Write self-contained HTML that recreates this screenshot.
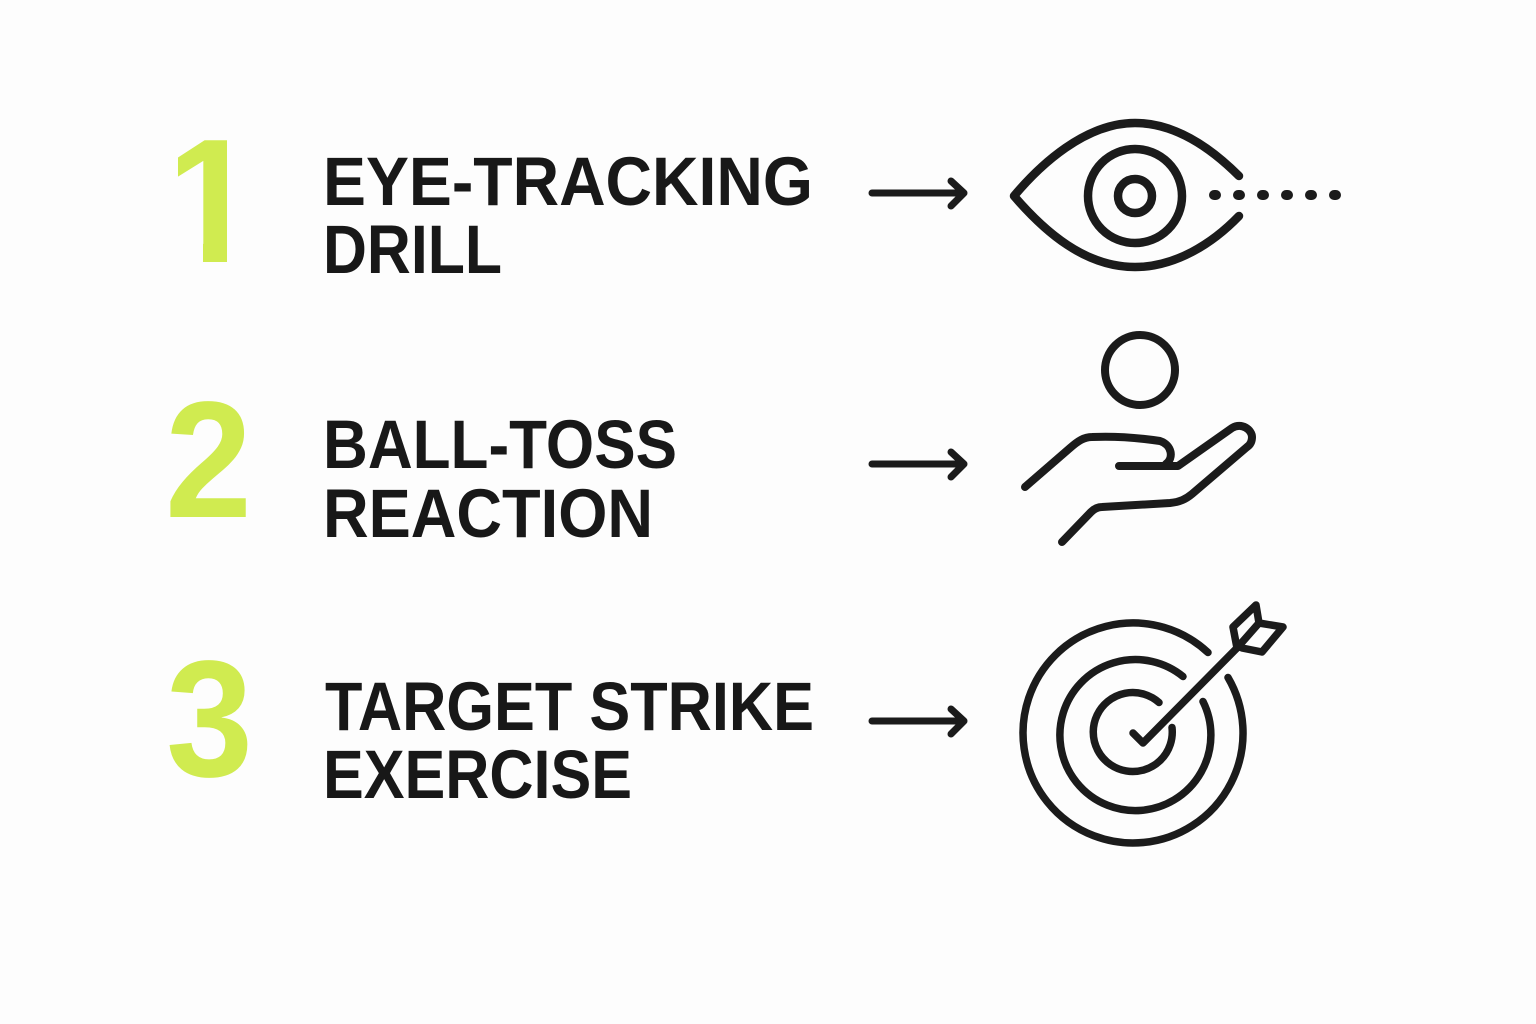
<!DOCTYPE html>
<html lang="en">
<head>
<meta charset="utf-8">
<title>Drills</title>
<style>
html,body{margin:0;padding:0;background:#fdfdfd}
svg{display:block}
.t{font-family:"Liberation Sans",sans-serif;font-weight:700;font-size:69px;fill:#181818}
.n{font-family:"Liberation Sans",sans-serif;font-weight:700;fill:#d0eb50}
.s{fill:none;stroke:#1b1b1b;stroke-linecap:round;stroke-linejoin:round}
</style>
</head>
<body>
<svg width="1536" height="1024" viewBox="0 0 1536 1024" xmlns="http://www.w3.org/2000/svg">
<defs>
<clipPath id="c1"><path d="M178 130H227V263H203V200H178Z"/></clipPath>
</defs>
<rect width="1536" height="1024" fill="#fdfdfd"/>

<text class="n" x="162" y="262" font-size="177" clip-path="url(#c1)">1</text>
<text class="n" x="165" y="517" font-size="166" textLength="87" lengthAdjust="spacingAndGlyphs">2</text>
<text class="n" x="166" y="776" font-size="166" textLength="87" lengthAdjust="spacingAndGlyphs">3</text>

<text class="t" x="323" y="205" textLength="490" lengthAdjust="spacingAndGlyphs">EYE-TRACKING</text>
<text class="t" x="323" y="273" textLength="179" lengthAdjust="spacingAndGlyphs">DRILL</text>
<text class="t" x="323" y="468" textLength="354" lengthAdjust="spacingAndGlyphs">BALL-TOSS</text>
<text class="t" x="323" y="537" textLength="330" lengthAdjust="spacingAndGlyphs">REACTION</text>
<text class="t" x="325" y="730" textLength="489" lengthAdjust="spacingAndGlyphs">TARGET STRIKE</text>
<text class="t" x="323" y="798" textLength="309" lengthAdjust="spacingAndGlyphs">EXERCISE</text>

<g class="s" stroke-width="7">
<path d="M872 193H963M951 181L964 193L951 206"/>
<path d="M872 464H963M951 452L964 464L951 477"/>
<path d="M872 721H963M951 709L964 721L951 734"/>
</g>

<g class="s" stroke-width="8.5">
<path d="M1239 176C1210 147 1175 123 1135 123C1085 123 1040 165 1014 196C1045 232 1085 267 1135 267C1175 267 1212 244 1239 216"/>
<circle cx="1135" cy="196" r="47"/>
<circle cx="1135" cy="196" r="17"/>
</g>
<g class="s" stroke-width="10">
<path d="M1214 195h2M1238 195h2M1262 195h2M1286 195h2M1310 195h2M1334 195h2"/>
</g>

<g class="s" stroke-width="8">
<circle cx="1140" cy="370" r="35"/>
<path d="M1025 487L1070 448C1078 441 1084 437 1092 437C1115 436 1140 438 1160 441C1172 445 1174 458 1166 464"/>
<path d="M1119 466H1178L1232 428C1242 422 1252 430 1252 437C1252 442 1250 445 1247 447L1192 494C1186 499 1180 502 1170 503L1102 507C1098 507 1094 509 1091 512L1062 542"/>
</g>

<g class="s" stroke-width="7.5">
<path d="M1208 652.5A110 110 0 1 0 1228 677.5"/>
<path d="M1183 676.5A75.5 75.5 0 1 0 1203 701.5"/>
<path d="M1159 702.5A39.5 39.5 0 1 0 1172 727.5"/>
<path d="M1133 733L1143 743L1237 648"/>
<path d="M1237 648L1233 627L1256 605L1259 623L1237 648M1259 623L1283 627L1262 652L1242 648"/>
</g>
</svg>
</body>
</html>
